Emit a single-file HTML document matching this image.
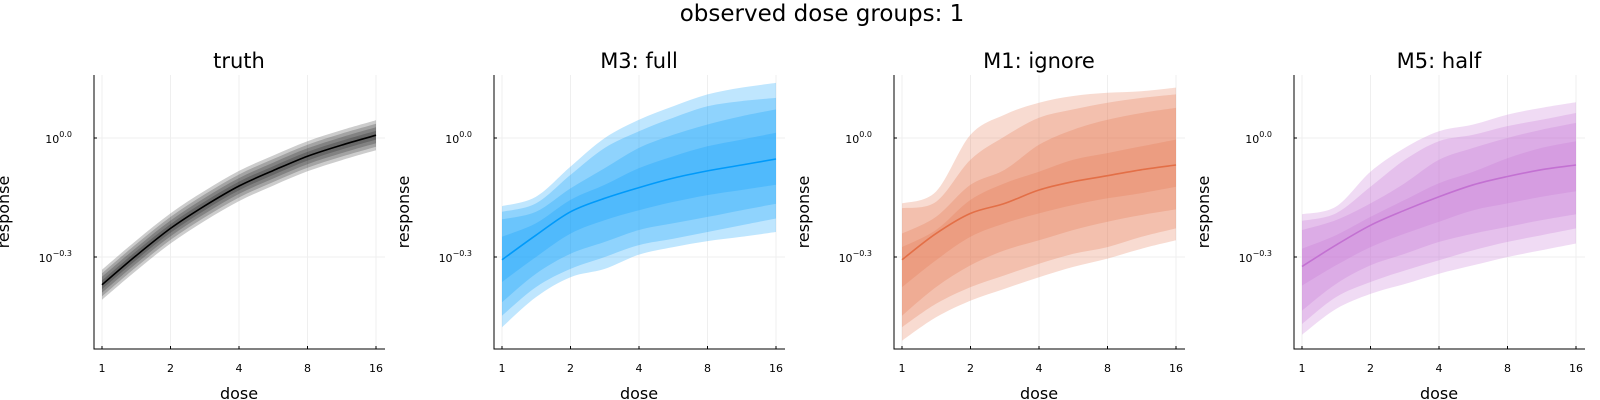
<!DOCTYPE html>
<html><head><meta charset="utf-8"><style>
html,body{margin:0;padding:0;background:#fff;}
svg{display:block;font-family:"DejaVu Sans","Liberation Sans",sans-serif;}
</style></head><body>
<svg id="chart" width="1600" height="400" viewBox="0 0 1600 400">
<text x="822" y="21" font-size="23" text-anchor="middle" fill="#000">observed dose groups: 1</text>
</svg>
<script>
const doses = [1, 1.41, 2, 2.83, 4, 5.66, 8, 11.3, 16];
const xTicks = [1, 2, 4, 8, 16];
const yTicks = [0.0, -0.3];
const yTickLabels = ["0.0", "\u22120.3"];
const panelTitles = ["truth", "M3: full", "M1: ignore", "M5: half"];
const panelColors = ["#000000", "#009afa", "#e36f47", "#c371d2"];

const truthMedian = [-0.370, -0.297, -0.228, -0.171, -0.121, -0.082, -0.046, -0.018, 0.007];
const truthSpread = [0.038, 0.029, 0.020, 0.011];

const m3Upper = [
 [-0.172,-0.148,-0.072,0.000,0.046,0.080,0.110,0.127,0.139],
 [-0.186,-0.165,-0.093,-0.025,0.017,0.051,0.080,0.093,0.101],
 [-0.205,-0.186,-0.127,-0.076,-0.025,0.008,0.034,0.055,0.072],
 [-0.249,-0.215,-0.156,-0.118,-0.076,-0.046,-0.021,-0.004,0.013]];
const m3Median = [-0.307,-0.245,-0.186,-0.152,-0.125,-0.101,-0.083,-0.068,-0.053];
const m3Lower = [
 [-0.477,-0.401,-0.351,-0.330,-0.294,-0.275,-0.260,-0.249,-0.237],
 [-0.448,-0.376,-0.330,-0.300,-0.270,-0.254,-0.237,-0.220,-0.203],
 [-0.414,-0.342,-0.292,-0.262,-0.232,-0.215,-0.199,-0.182,-0.166],
 [-0.363,-0.300,-0.241,-0.207,-0.182,-0.161,-0.144,-0.131,-0.118]];

const m1Upper = [
 [-0.165,-0.135,0.008,0.059,0.089,0.106,0.114,0.118,0.127],
 [-0.177,-0.161,-0.055,0.004,0.051,0.072,0.089,0.101,0.110],
 [-0.241,-0.199,-0.118,-0.080,-0.017,0.021,0.046,0.063,0.076],
 [-0.275,-0.232,-0.156,-0.114,-0.085,-0.055,-0.038,-0.021,-0.004]];
const m1Median = [-0.307,-0.241,-0.190,-0.165,-0.131,-0.110,-0.095,-0.080,-0.068];
const m1Lower = [
 [-0.511,-0.452,-0.410,-0.380,-0.351,-0.325,-0.304,-0.279,-0.258],
 [-0.477,-0.418,-0.376,-0.346,-0.317,-0.292,-0.275,-0.249,-0.228],
 [-0.448,-0.376,-0.321,-0.283,-0.258,-0.232,-0.211,-0.194,-0.180],
 [-0.376,-0.308,-0.249,-0.215,-0.190,-0.169,-0.152,-0.139,-0.123]];

const m5Upper = [
 [-0.192,-0.173,-0.085,-0.025,0.017,0.034,0.059,0.076,0.090],
 [-0.209,-0.190,-0.123,-0.055,-0.008,0.008,0.030,0.046,0.063],
 [-0.232,-0.207,-0.165,-0.114,-0.055,-0.025,0.000,0.021,0.038],
 [-0.279,-0.245,-0.199,-0.156,-0.114,-0.085,-0.051,-0.025,-0.008]];
const m5Median = [-0.324,-0.270,-0.220,-0.182,-0.148,-0.118,-0.097,-0.080,-0.068];
const m5Lower = [
 [-0.496,-0.431,-0.393,-0.368,-0.342,-0.321,-0.300,-0.283,-0.266],
 [-0.469,-0.401,-0.363,-0.334,-0.308,-0.283,-0.262,-0.245,-0.228],
 [-0.435,-0.368,-0.321,-0.292,-0.262,-0.241,-0.224,-0.207,-0.192],
 [-0.372,-0.321,-0.275,-0.241,-0.211,-0.182,-0.165,-0.148,-0.134]];

const NS = "http://www.w3.org/2000/svg";
const svg = document.getElementById("chart");
function mk(tag, attrs, parent){
  const e = document.createElementNS(NS, tag);
  for (const k in attrs) e.setAttribute(k, attrs[k]);
  (parent||svg).appendChild(e);
  return e;
}
function xScale(p, d){ return p*400 + 102 + Math.log2(d)*68.5; }
function yScale(v){ return 138 - v*(119/0.3); }
function smooth(pts, start){
  let d = (start ? "M" : "L") + pts[0][0].toFixed(1) + "," + pts[0][1].toFixed(1);
  for (let i = 0; i < pts.length-1; i++){
    const p0 = pts[Math.max(i-1,0)], p1 = pts[i], p2 = pts[i+1], p3 = pts[Math.min(i+2, pts.length-1)];
    const c1x = p1[0] + (p2[0]-p0[0])/6, c1y = p1[1] + (p2[1]-p0[1])/6;
    const c2x = p2[0] - (p3[0]-p1[0])/6, c2y = p2[1] - (p3[1]-p1[1])/6;
    d += "C" + c1x.toFixed(1) + "," + c1y.toFixed(1) + " " + c2x.toFixed(1) + "," + c2y.toFixed(1) + " " + p2[0].toFixed(1) + "," + p2[1].toFixed(1);
  }
  return d;
}

const truthUpper = truthSpread.map(s => truthMedian.map(m => m + s));
const truthLower = truthSpread.map(s => truthMedian.map(m => m - s)).reverse();
const panels = [
  {upper: truthUpper, lower: truthLower, median: truthMedian, alpha: 0.2},
  {upper: m3Upper, lower: m3Lower, median: m3Median, alpha: 0.25},
  {upper: m1Upper, lower: m1Lower, median: m1Median, alpha: 0.25},
  {upper: m5Upper, lower: m5Lower, median: m5Median, alpha: 0.25}
];

panels.forEach((pd, p) => {
  const g = mk("g", {});
  
  
  const x0 = p*400;
  xTicks.forEach(t => {
    const gl = mk("line", {x1: xScale(p,t), x2: xScale(p,t), y1: 75, y2: 349, stroke: "#efefef", "stroke-width": 1}, g);
    
    
  });
  yTicks.forEach(t => {
    const gl = mk("line", {x1: x0+94, x2: x0+385, y1: yScale(t), y2: yScale(t), stroke: "#efefef", "stroke-width": 1}, g);
    
    
  });
  for (let b = 0; b < pd.upper.length; b++) {
    const up = pd.upper[b], lo = pd.lower[b];
    const upPts = doses.map((ds, i) => [xScale(p,ds), yScale(up[i])]);
    const loPts = doses.map((ds, i) => [xScale(p,ds), yScale(lo[i])]).reverse();
    const d = smooth(upPts, true) + smooth(loPts, false) + "Z";
    const band = mk("path", {d: d, fill: panelColors[p], "fill-opacity": pd.alpha, stroke: "none"}, g);
    
    
  }
  const mPts = doses.map((ds, i) => [xScale(p,ds), yScale(pd.median[i])]);
  const ml = mk("path", {d: smooth(mPts, true), fill: "none", stroke: panelColors[p], "stroke-width": 1.6}, g);
  
  
  const ax = mk("path", {d: `M${x0+94},75V349H${x0+385}`, fill: "none", stroke: "#000", "stroke-width": 1}, g);
  
  
  xTicks.forEach(t => {
    const tk = mk("line", {x1: xScale(p,t), x2: xScale(p,t), y1: 349, y2: 346, stroke: "#000"}, g);
    
    
    const tl = mk("text", {x: xScale(p,t), y: 372, "font-size": 11, "text-anchor": "middle", fill: "#000"}, g);
    tl.textContent = String(t);
    
    
  });
  yTicks.forEach((t, i) => {
    const tk = mk("line", {x1: x0+94, x2: x0+97, y1: yScale(t), y2: yScale(t), stroke: "#000"}, g);
    
    
    const tl = mk("text", {x: x0+72, y: yScale(t)+5, "font-size": 11, "text-anchor": "end", fill: "#000"}, g);
    
    
    tl.appendChild(document.createTextNode("10"));
    const sup = mk("tspan", {"font-size": 8, dy: -6}, tl);
    sup.textContent = yTickLabels[i];
  });
  const title = mk("text", {x: x0+239, y: 68, "font-size": 21, "text-anchor": "middle", fill: "#000"}, g);
  title.textContent = panelTitles[p];
  
  
  const xl = mk("text", {x: x0+239, y: 399, "font-size": 16, "text-anchor": "middle", fill: "#000"}, g);
  xl.textContent = "dose";
  
  
  const yl = mk("text", {x: 0, y: 0, "font-size": 16, "text-anchor": "middle", fill: "#000", transform: `translate(${x0+9},212) rotate(-90)`}, g);
  yl.textContent = "response";
  
  
});
</script>
</body></html>
